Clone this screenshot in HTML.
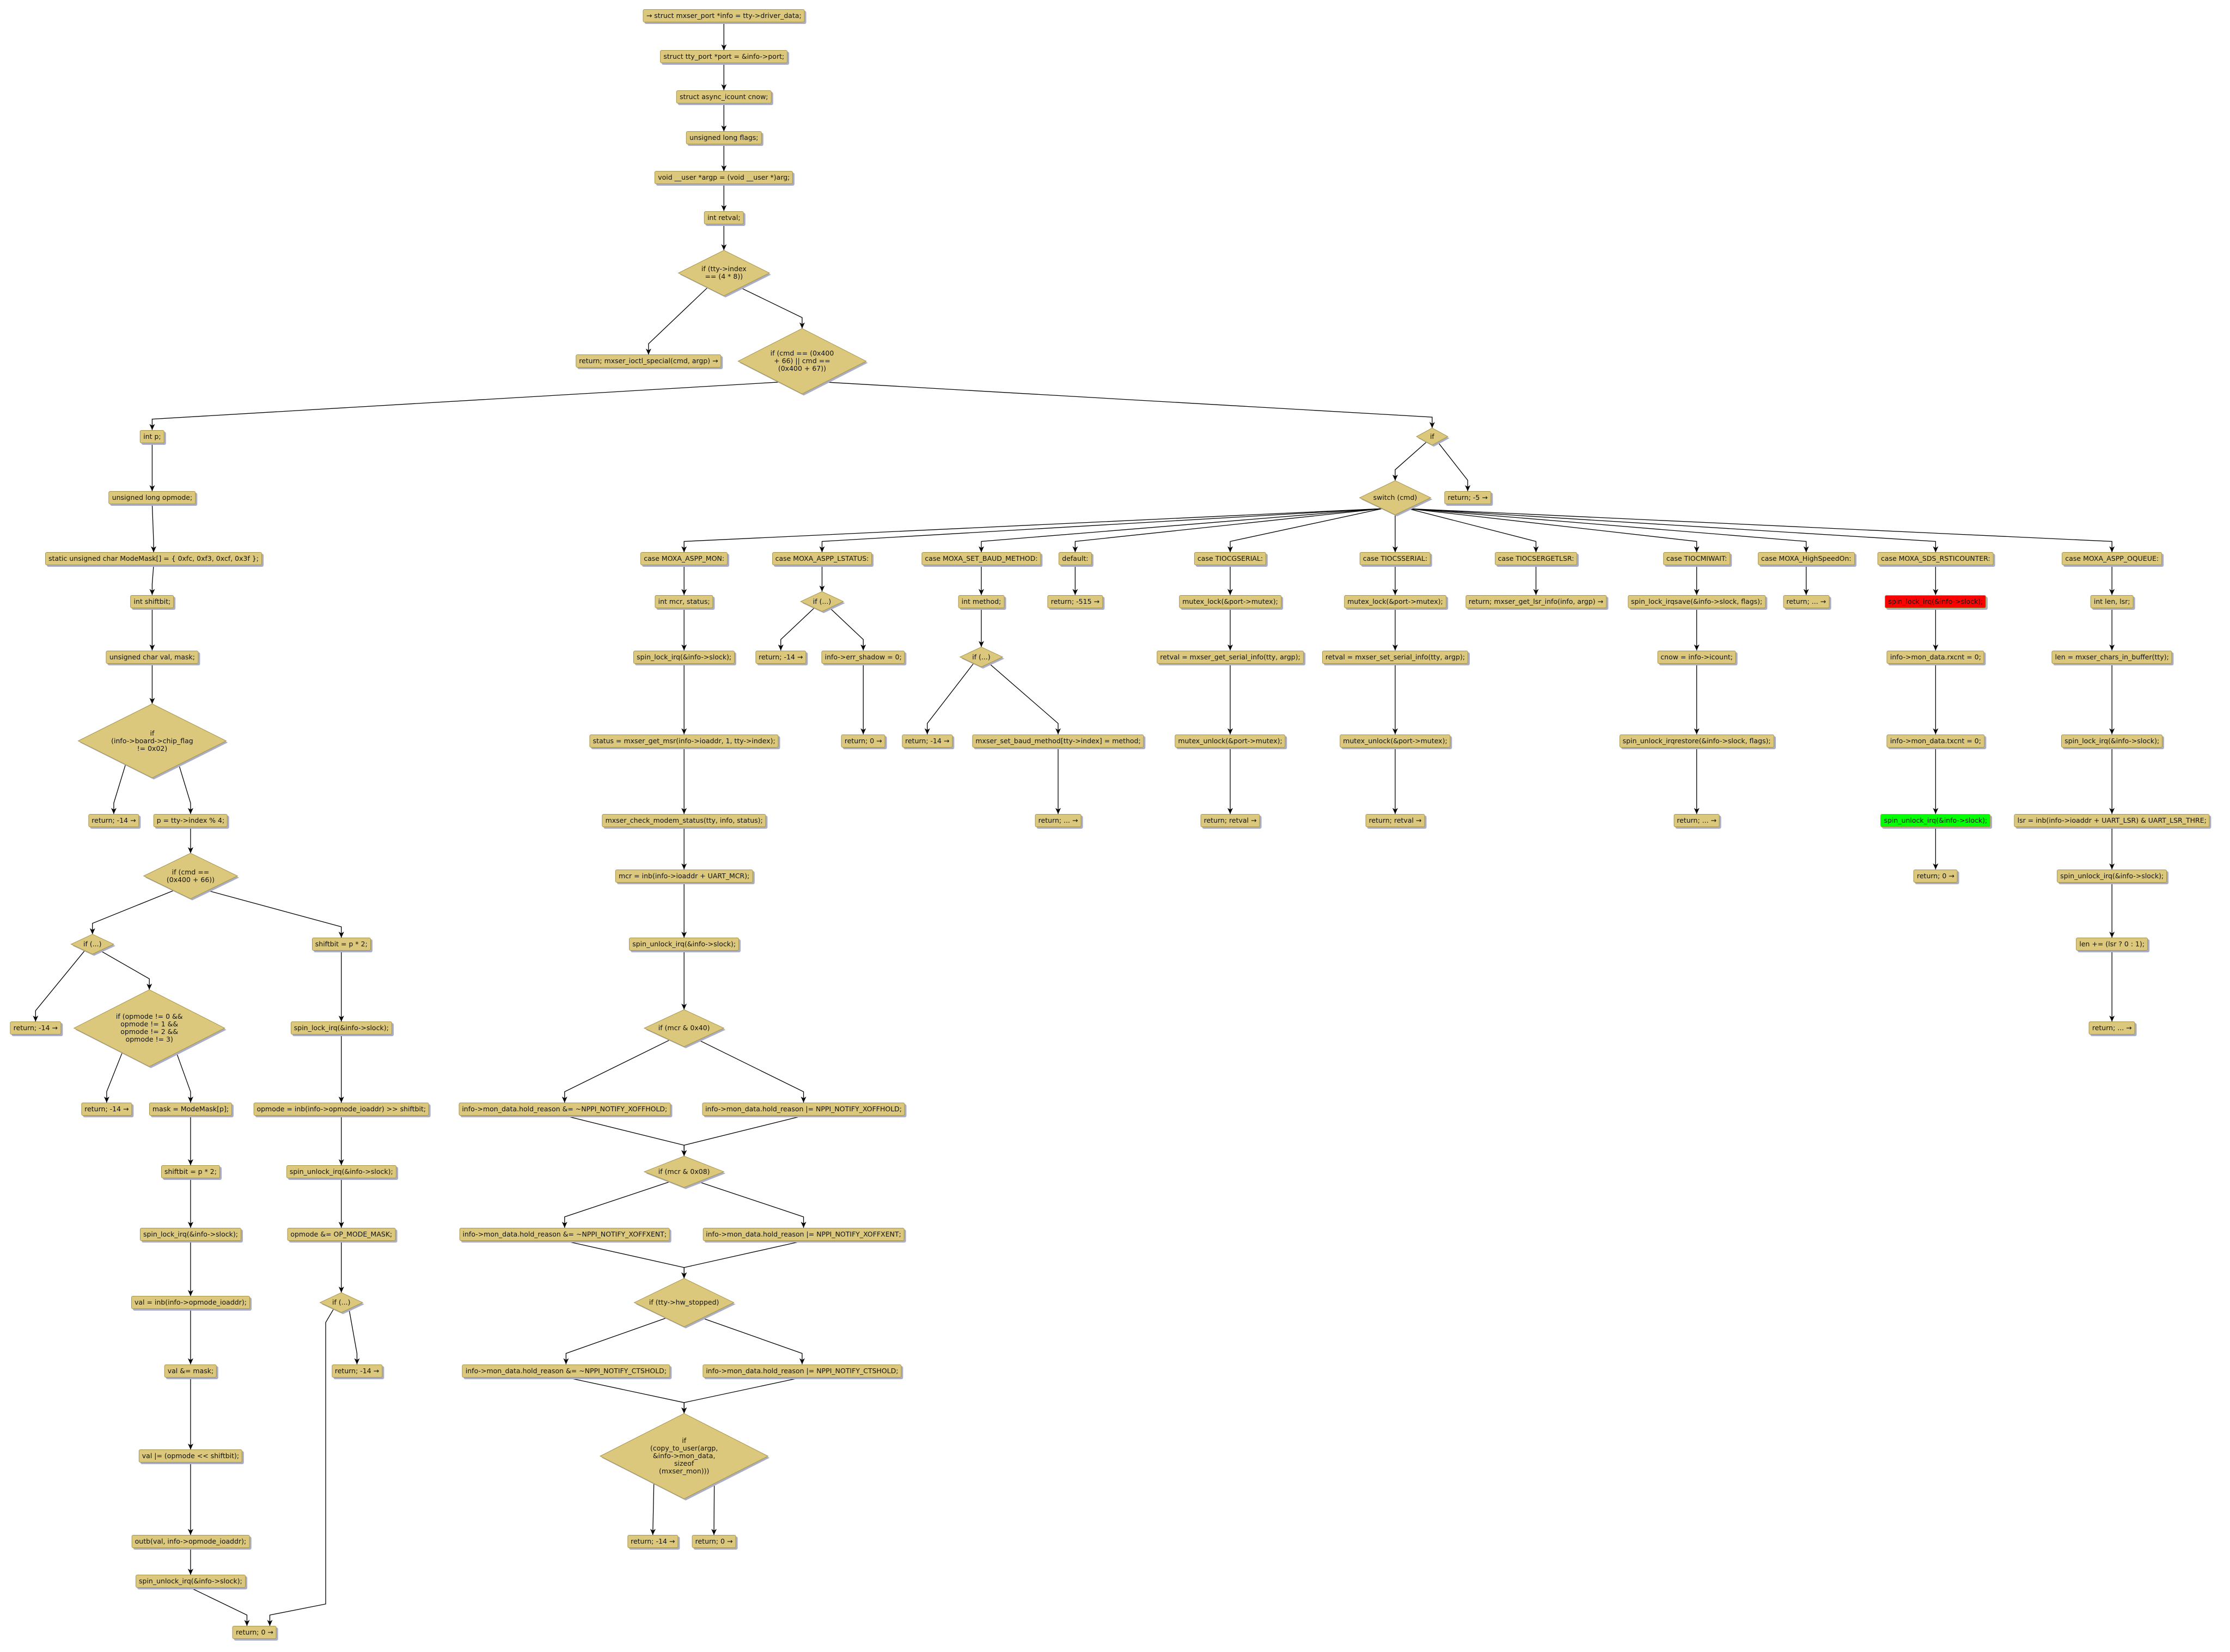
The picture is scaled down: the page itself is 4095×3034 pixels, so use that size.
<!DOCTYPE html>
<html><head><meta charset="utf-8">
<style>
html,body{margin:0;padding:0;background:#fff;}
#c{position:relative;width:4095px;height:3034px;overflow:hidden;font-family:"DejaVu Sans","Liberation Sans",sans-serif;font-size:12.5px;color:#111;}
.b{position:absolute;transform:translate(-50%,-50%);background:#dbc87c;border:1px solid #a89448;border-radius:3px;padding:0 5px;height:22px;line-height:22px;white-space:nowrap;box-shadow:3px 3px 0 #a9aec4;}
.red{background:#ff0000;}
.grn{background:#00ff00;}
.dt{position:absolute;transform:translate(-50%,-50%);text-align:center;line-height:14px;white-space:nowrap;}
svg{position:absolute;left:0;top:0;}
</style></head><body>
<div id="c"><svg id="s" width="4095" height="3034"></svg></div>
<script>
var S=4095/1568;
var N={};
var nodes=[
['n1',509,11,'→ struct mxser_port *info = tty-&gt;driver_data;'],
['n2',509,40,'struct tty_port *port = &amp;info-&gt;port;'],
['n3',509,68,'struct async_icount cnow;'],
['n4',509,97,'unsigned long flags;'],
['n5',509,125,'void __user *argp = (void __user *)arg;'],
['n6',509,153,'int retval;'],
['d7',509,192,'if (tty-&gt;index<br>== (4 * 8))',64,32],
['n8',456,254,'return; mxser_ioctl_special(cmd, argp) →'],
['d9',564,254,'if (cmd == (0x400<br>+ 66) || cmd ==<br>(0x400 + 67))',90,46],
['n10',107,307,'int p;'],
['n11',107,350,'unsigned long opmode;'],
['n12',108,393,'static unsigned char ModeMask[] = { 0xfc, 0xf3, 0xcf, 0x3f };'],
['n13',107,423,'int shiftbit;'],
['n14',107,462,'unsigned char val, mask;'],
['d15',107,521,'if<br>(info-&gt;board-&gt;chip_flag<br>!= 0x02)',104,52],
['n16',80,577,'return; -14 →'],
['n17',134,577,'p = tty-&gt;index % 4;'],
['d18',134,616,'if (cmd ==<br>(0x400 + 66))',66,32],
['d19',65,664,'if (...)',30,14],
['n20',240,664,'shiftbit = p * 2;'],
['n21',25,723,'return; -14 →'],
['d22',105,723,'if (opmode != 0 &amp;&amp;<br>opmode != 1 &amp;&amp;<br>opmode != 2 &amp;&amp;<br>opmode != 3)',106,54],
['n23',75,780,'return; -14 →'],
['n24',134,780,'mask = ModeMask[p];'],
['n25',134,824,'shiftbit = p * 2;'],
['n26',134,868,'spin_lock_irq(&amp;info-&gt;slock);'],
['n27',134,916,'val = inb(info-&gt;opmode_ioaddr);'],
['n28',134,964,'val &amp;= mask;'],
['n29',134,1024,'val |= (opmode &lt;&lt; shiftbit);'],
['n30',134,1084,'outb(val, info-&gt;opmode_ioaddr);'],
['n31',134,1112,'spin_unlock_irq(&amp;info-&gt;slock);'],
['n32',179,1148,'return; 0 →'],
['n33',240,723,'spin_lock_irq(&amp;info-&gt;slock);'],
['n34',240,780,'opmode = inb(info-&gt;opmode_ioaddr) &gt;&gt; shiftbit;'],
['n35',240,824,'spin_unlock_irq(&amp;info-&gt;slock);'],
['n36',240,868,'opmode &amp;= OP_MODE_MASK;'],
['d37',240,916,'if (...)',30,14],
['n38',251,964,'return; -14 →'],
['d39',1007,307,'if',22,12],
['d40',981,350,'switch (cmd)',50,24],
['n41',1032,350,'return; -5 →'],
['n42',481,393,'case MOXA_ASPP_MON:'],
['n43',578,393,'case MOXA_ASPP_LSTATUS:'],
['n44',690,393,'case MOXA_SET_BAUD_METHOD:'],
['n45',756,393,'default:'],
['n46',865,393,'case TIOCGSERIAL:'],
['n47',981,393,'case TIOCSSERIAL:'],
['n48',1080,393,'case TIOCSERGETLSR:'],
['n49',1193,393,'case TIOCMIWAIT:'],
['n50',1270,393,'case MOXA_HighSpeedOn:'],
['n51',1361,393,'case MOXA_SDS_RSTICOUNTER:'],
['n52',1485,393,'case MOXA_ASPP_OQUEUE:'],
['n53',481,423,'int mcr, status;'],
['n54',481,462,'spin_lock_irq(&amp;info-&gt;slock);'],
['n55',481,521,'status = mxser_get_msr(info-&gt;ioaddr, 1, tty-&gt;index);'],
['n56',481,577,'mxser_check_modem_status(tty, info, status);'],
['n57',481,616,'mcr = inb(info-&gt;ioaddr + UART_MCR);'],
['n58',481,664,'spin_unlock_irq(&amp;info-&gt;slock);'],
['d59',481,723,'if (mcr &amp; 0x40)',56,26],
['n60',397,780,'info-&gt;mon_data.hold_reason &amp;= ~NPPI_NOTIFY_XOFFHOLD;'],
['n61',565,780,'info-&gt;mon_data.hold_reason |= NPPI_NOTIFY_XOFFHOLD;'],
['d62',481,824,'if (mcr &amp; 0x08)',56,22],
['n63',397,868,'info-&gt;mon_data.hold_reason &amp;= ~NPPI_NOTIFY_XOFFXENT;'],
['n64',565,868,'info-&gt;mon_data.hold_reason |= NPPI_NOTIFY_XOFFXENT;'],
['d65',481,916,'if (tty-&gt;hw_stopped)',70,34],
['n66',398,964,'info-&gt;mon_data.hold_reason &amp;= ~NPPI_NOTIFY_CTSHOLD;'],
['n67',564,964,'info-&gt;mon_data.hold_reason |= NPPI_NOTIFY_CTSHOLD;'],
['d68',481,1024,'if<br>(copy_to_user(argp,<br>&amp;info-&gt;mon_data,<br>sizeof<br>(mxser_mon)))',118,60],
['n69',459,1084,'return; -14 →'],
['n70',502,1084,'return; 0 →'],
['d71',578,423,'if (...)',30,14],
['n72',549,462,'return; -14 →'],
['n73',607,462,'info-&gt;err_shadow = 0;'],
['n74',607,521,'return; 0 →'],
['n75',690,423,'int method;'],
['d76',690,462,'if (...)',30,14],
['n77',652,521,'return; -14 →'],
['n78',744,521,'mxser_set_baud_method[tty-&gt;index] = method;'],
['n79',744,577,'return; ... →'],
['n80',756,423,'return; -515 →'],
['n81',865,423,'mutex_lock(&amp;port-&gt;mutex);'],
['n82',865,462,'retval = mxser_get_serial_info(tty, argp);'],
['n83',865,521,'mutex_unlock(&amp;port-&gt;mutex);'],
['n84',865,577,'return; retval →'],
['n85',981,423,'mutex_lock(&amp;port-&gt;mutex);'],
['n86',981,462,'retval = mxser_set_serial_info(tty, argp);'],
['n87',981,521,'mutex_unlock(&amp;port-&gt;mutex);'],
['n88',981,577,'return; retval →'],
['n89',1080,423,'return; mxser_get_lsr_info(info, argp) →'],
['n90',1193,423,'spin_lock_irqsave(&amp;info-&gt;slock, flags);'],
['n91',1193,462,'cnow = info-&gt;icount;'],
['n92',1193,521,'spin_unlock_irqrestore(&amp;info-&gt;slock, flags);'],
['n93',1193,577,'return; ... →'],
['n94',1270,423,'return; ... →'],
['n95',1361,423,'spin_lock_irq(&amp;info-&gt;slock);','red'],
['n96',1361,462,'info-&gt;mon_data.rxcnt = 0;'],
['n97',1361,521,'info-&gt;mon_data.txcnt = 0;'],
['n98',1361,577,'spin_unlock_irq(&amp;info-&gt;slock);','grn'],
['n99',1361,616,'return; 0 →'],
['n100',1485,423,'int len, lsr;'],
['n101',1485,462,'len = mxser_chars_in_buffer(tty);'],
['n102',1485,521,'spin_lock_irq(&amp;info-&gt;slock);'],
['n103',1485,577,'lsr = inb(info-&gt;ioaddr + UART_LSR) &amp; UART_LSR_THRE;'],
['n104',1485,616,'spin_unlock_irq(&amp;info-&gt;slock);'],
['n105',1485,664,'len += (lsr ? 0 : 1);'],
['n106',1485,723,'return; ... →']
];
var edges=[['n1','n2'],['n2','n3'],['n3','n4'],['n4','n5'],['n5','n6'],['n6','d7'],['d7','n8'],['d7','d9'],
['d9','n10'],['d9','d39'],['n10','n11'],['n11','n12'],['n12','n13'],['n13','n14'],['n14','d15'],['d15','n16'],['d15','n17'],['n17','d18'],
['d18','d19'],['d18','n20'],['d19','n21'],['d19','d22'],['d22','n23'],['d22','n24'],['n24','n25'],['n25','n26'],['n26','n27'],['n27','n28'],['n28','n29'],['n29','n30'],['n30','n31'],['n31','n32'],
['n20','n33'],['n33','n34'],['n34','n35'],['n35','n36'],['n36','d37'],['d37','n38'],['d37','n32',[[229,930],[229,1128]]],
['d39','d40'],['d39','n41'],
['d40','n42'],['d40','n43'],['d40','n44'],['d40','n45'],['d40','n46'],['d40','n47'],['d40','n48'],['d40','n49'],['d40','n50'],['d40','n51'],['d40','n52'],
['n42','n53'],['n53','n54'],['n54','n55'],['n55','n56'],['n56','n57'],['n57','n58'],['n58','d59'],['d59','n60'],['d59','n61'],['n60','d62'],['n61','d62'],['d62','n63'],['d62','n64'],['n63','d65'],['n64','d65'],['d65','n66'],['d65','n67'],['n66','d68'],['n67','d68'],['d68','n69'],['d68','n70'],
['n43','d71'],['d71','n72'],['d71','n73'],['n73','n74'],
['n44','n75'],['n75','d76'],['d76','n77'],['d76','n78'],['n78','n79'],
['n45','n80'],
['n46','n81'],['n81','n82'],['n82','n83'],['n83','n84'],
['n47','n85'],['n85','n86'],['n86','n87'],['n87','n88'],
['n48','n89'],
['n49','n90'],['n90','n91'],['n91','n92'],['n92','n93'],
['n50','n94'],
['n51','n95'],['n95','n96'],['n96','n97'],['n97','n98'],['n98','n99'],
['n52','n100'],['n100','n101'],['n101','n102'],['n102','n103'],['n103','n104'],['n104','n105'],['n105','n106']];
var c=document.getElementById('c'),s=document.getElementById('s');
var NS='http://www.w3.org/2000/svg';
var defs=document.createElementNS(NS,'defs');
defs.innerHTML='<marker id="a" markerUnits="userSpaceOnUse" markerWidth="12" markerHeight="10" refX="11" refY="5" orient="auto"><path d="M0,0 L11,5 L0,10 L3,5 z" fill="#000"/></marker>';
s.appendChild(defs);
var shad=document.createElementNS(NS,'g');s.appendChild(shad);
var eg=document.createElementNS(NS,'g');s.appendChild(eg);
var dg=document.createElementNS(NS,'g');s.appendChild(dg);
nodes.forEach(function(n){
  var x=n[1]*S,y=n[2]*S;
  if(n[0][0]=='d'){
    var w=n[4]*S,h=n[5]*S;
    var pts=function(ox,oy){return (x+ox)+','+(y-h/2+oy)+' '+(x+w/2+ox)+','+(y+oy)+' '+(x+ox)+','+(y+h/2+oy)+' '+(x-w/2+ox)+','+(y+oy);};
    var p1=document.createElementNS(NS,'polygon');p1.setAttribute('points',pts(3,3));p1.setAttribute('fill','#a9aec4');dg.appendChild(p1);
    var p=document.createElementNS(NS,'polygon');p.setAttribute('points',pts(0,0));p.setAttribute('fill','#dbc87c');p.setAttribute('stroke','#a89448');p.setAttribute('stroke-width','1');dg.appendChild(p);
    var t=document.createElement('div');t.className='dt';t.style.left=x+'px';t.style.top=y+'px';t.innerHTML=n[3];c.appendChild(t);
    N[n[0]]={x:x,y:y,d:1,top:y-h/2,bot:y+h/2,w:w,h:h};
  }else{
    var b=document.createElement('div');b.className='b'+(n[4]?' '+n[4]:'');b.style.left=x+'px';b.style.top=y+'px';b.innerHTML=n[3];c.appendChild(b);
    N[n[0]]={x:x,y:y,top:y-12,bot:y+12};
  }
});
edges.forEach(function(e){
  var a=N[e[0]],b=N[e[1]];
  var sx=a.x,sy=a.bot;
  if(a.d){
    var dx=b.x-a.x;
    if(Math.abs(dx)>4 && !e[2]){sx=a.x+(dx>0?1:-1)*a.w*0.18;sy=a.y+a.h*0.32;}
    if(e[2]){sx=a.x-a.w*0.18;sy=a.y+a.h*0.32;}
  }
  var pts=[[sx,sy]];
  if(e[2]){e[2].forEach(function(q){pts.push([q[0]*S,q[1]*S]);});}
  var tx=b.x,ty=b.top;
  if(e[1]=='n32'){tx=b.x+(e[2]?28:-14);}
  if(Math.abs(tx-sx)>2||e[2]) pts.push([tx,ty-20]);
  pts.push([tx,ty]);
  var pl=document.createElementNS(NS,'polyline');
  pl.setAttribute('points',pts.map(function(q){return q[0]+','+q[1];}).join(' '));
  pl.setAttribute('fill','none');pl.setAttribute('stroke','#000');pl.setAttribute('stroke-width','1.3');pl.setAttribute('marker-end','url(#a)');
  eg.appendChild(pl);
});
</script>
</body></html>
